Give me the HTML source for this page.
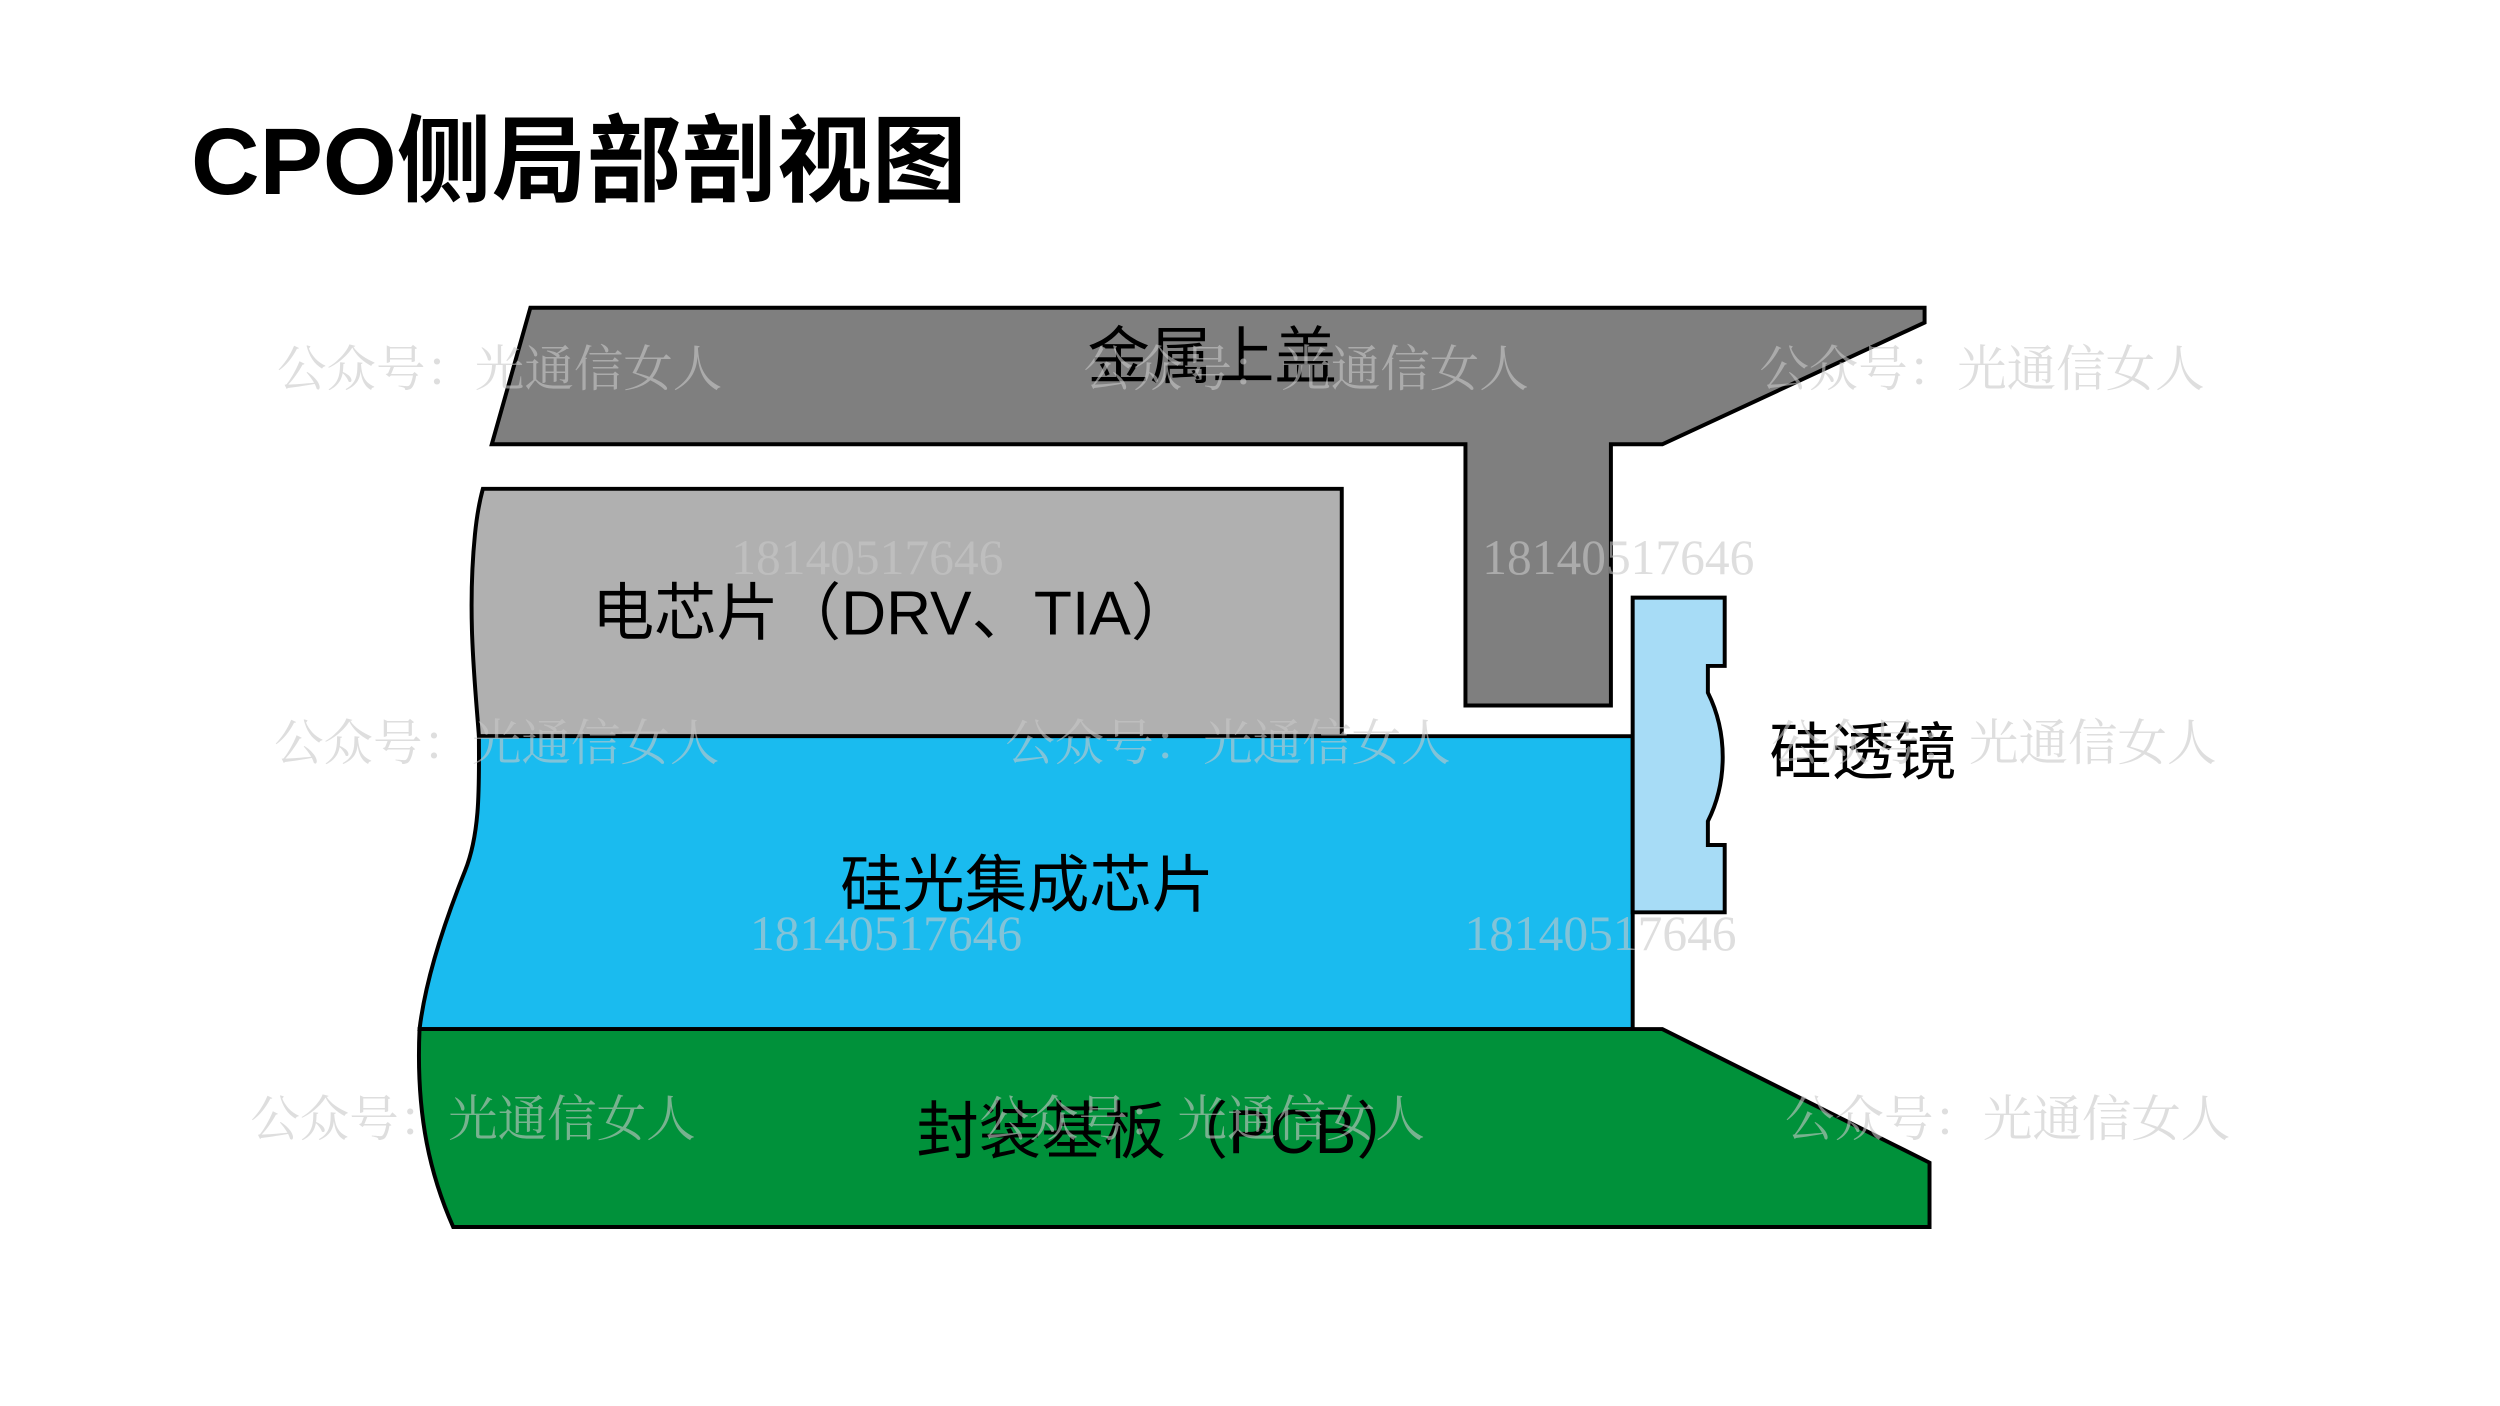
<!DOCTYPE html>
<html><head><meta charset="utf-8"><style>
html,body{margin:0;padding:0;background:#fff;}
svg{display:block;}
</style></head><body>
<svg width="2500" height="1406" viewBox="0 0 2500 1406" xmlns="http://www.w3.org/2000/svg">
<g transform="scale(0.9895)">
<text x="193" y="196" font-family="'Liberation Sans','Noto Sans CJK SC',sans-serif" font-weight="bold" font-size="96" fill="#000">CPO侧局部剖视图</text>
<g stroke="#000" stroke-width="4" stroke-linejoin="miter">
<polygon points="536,311 1945,311 1945,326 1680,449 1628,449 1628,713 1481,713 1481,449 497,449" fill="#7f7f7f"/>
<path d="M488,494 L1356,494 L1356,744 L484,744 C480,690 472,620 480,540 C482,520 485,505 488,494 Z" fill="#b0b0b0"/>
<path d="M484,744 L1650,744 L1650,1040 L424,1040 C430,990 450,930 470,880 C486,840 484,790 484,744 Z" fill="#1abbef"/>
<path d="M424,1040 L1680,1040 L1950,1175 L1950,1240 L458,1240 C436,1190 420,1130 424,1040 Z" fill="#00913a"/>
<path d="M1650,604 L1743,604 L1743,673 L1726,673 L1726,700 C1746,740 1746,790 1726,830 L1726,854 L1743,854 L1743,922 L1650,922 Z" fill="#a7dcf6"/>
</g>
<g font-family="'Liberation Sans','Noto Sans CJK SC',sans-serif" font-size="63" fill="#000" text-anchor="middle">
<text x="1225" y="382">金属上盖</text>
<text x="902" y="641">电芯片（DRV、TIA）</text>
<text x="1038" y="916">硅光集成芯片</text>
<text x="1180" y="1165">封装基板（PCB）</text>
</g>
<text x="1788" y="782" font-family="'Liberation Sans','Noto Sans CJK SC',sans-serif" font-size="63" fill="#000">硅透镜</text>
<g font-family="'Liberation Serif','Noto Serif CJK SC',serif" font-size="50" fill="rgba(200,200,200,0.6)">
<text x="280" y="390">公众号：光通信女人</text>
<text x="1095" y="390">公众号：光通信女人</text>
<text x="1778" y="390">公众号：光通信女人</text>
<text x="277" y="768">公众号：光通信女人</text>
<text x="1016" y="768">公众号：光通信女人</text>
<text x="1790" y="768">公众号：光通信女人</text>
<text x="253" y="1148">公众号：光通信女人</text>
<text x="990" y="1148">公众号：光通信女人</text>
<text x="1804" y="1148">公众号：光通信女人</text>
<text x="739" y="580">18140517646</text>
<text x="1498" y="580">18140517646</text>
<text x="758" y="960">18140517646</text>
<text x="1480" y="960">18140517646</text>
</g>
</g>
</svg>
</body></html>
